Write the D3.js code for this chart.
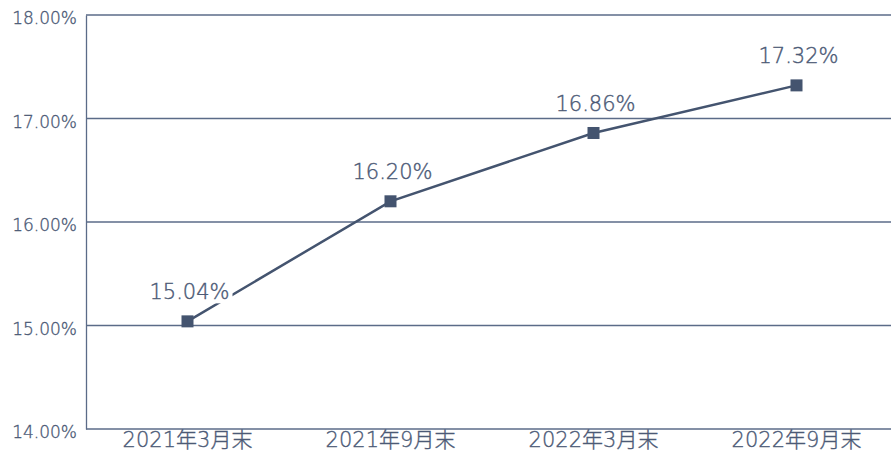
<!DOCTYPE html>
<html>
<head>
<meta charset="utf-8">
<script src="https://cdn.jsdelivr.net/npm/d3@7"></script>
<style>
  body { margin: 0; background: #fff; }
  text { font-family: "DejaVu Sans", "Noto Sans CJK JP", sans-serif; font-weight: 300; }
</style>
</head>
<body>
<div id="chart"></div>
<script>
  // data
  var categories = ["2021年3月末", "2021年9月末", "2022年3月末", "2022年9月末"];
  var values = [15.04, 16.20, 16.86, 17.32];
  var yTicks = [14, 15, 16, 17, 18];

  var W = 891, H = 455;
  var margin = { top: 15, right: -7, bottom: 26, left: 86 };
  var lineColor = "#44546f", axisColor = "#5b6b88", textColor = "#4c5a76";

  var svg = d3.select("#chart")
      .append("svg")
      .attr("width", W)
      .attr("height", H);

  var x = d3.scaleBand()
      .domain(categories)
      .range([margin.left, W - margin.right]);

  var y = d3.scaleLinear()
      .domain([14, 18])
      .range([H - margin.bottom, margin.top]);

  // grid lines
  svg.append("g")
      .selectAll("line")
      .data(yTicks)
      .enter()
      .append("line")
      .attr("x1", margin.left)
      .attr("x2", W)
      .attr("y1", function (d) { return y(d); })
      .attr("y2", function (d) { return y(d); })
      .style("stroke", axisColor)
      .style("stroke-width", 1.3);

  // Y axis
  var yAxis = svg.append("g")
      .attr("transform", "translate(" + margin.left + ",0)")
      .call(d3.axisLeft(y).tickValues(yTicks).tickSize(0).tickPadding(9)
          .tickFormat(function (d) { return d.toFixed(2) + "%"; }));
  yAxis.select(".domain").style("stroke", axisColor).style("stroke-width", 1.3);
  yAxis.selectAll("text")
      .style("fill", textColor)
      .style("stroke", textColor)
      .style("stroke-width", 0.35)
      .style("font-size", "17px")
      .attr("dy", "0.5em");

  // X axis
  var xAxis = svg.append("g")
      .attr("transform", "translate(0," + y(14) + ")")
      .call(d3.axisBottom(x).tickSize(0).tickPadding(5));
  xAxis.select(".domain").remove();
  xAxis.selectAll("text")
      .style("fill", textColor)
      .style("stroke", textColor)
      .style("stroke-width", 0.35)
      .style("font-size", "21px")
      .attr("dy", "0.64em");

  // line
  var line = d3.line()
      .x(function (d, i) { return x(categories[i]) + x.bandwidth() / 2; })
      .y(function (d) { return y(d); });

  svg.append("path")
      .datum(values)
      .attr("d", line)
      .style("fill", "none")
      .style("stroke", lineColor)
      .style("stroke-width", 2.5);

  // markers
  svg.append("g")
      .selectAll("rect")
      .data(values)
      .enter()
      .append("rect")
      .attr("x", function (d, i) { return x(categories[i]) + x.bandwidth() / 2 - 6; })
      .attr("y", function (d) { return y(d) - 6; })
      .attr("width", 12)
      .attr("height", 12)
      .style("fill", lineColor);

  // value labels
  var labels = svg.append("g")
      .selectAll("g")
      .data(values)
      .enter()
      .append("g")
      .attr("transform", function (d, i) {
          return "translate(" + (x(categories[i]) + x.bandwidth() / 2 + 2) + "," + (y(d) - 22) + ")";
      });
  labels.append("rect")
      .attr("x", -43)
      .attr("y", -17)
      .attr("width", 86)
      .attr("height", 21)
      .style("fill", "#fff");
  labels.append("text")
      .attr("text-anchor", "middle")
      .style("fill", textColor)
      .style("stroke", textColor)
      .style("stroke-width", 0.4)
      .style("font-size", "21px")
      .text(function (d) { return d.toFixed(2) + "%"; });
</script>
</body>
</html>
